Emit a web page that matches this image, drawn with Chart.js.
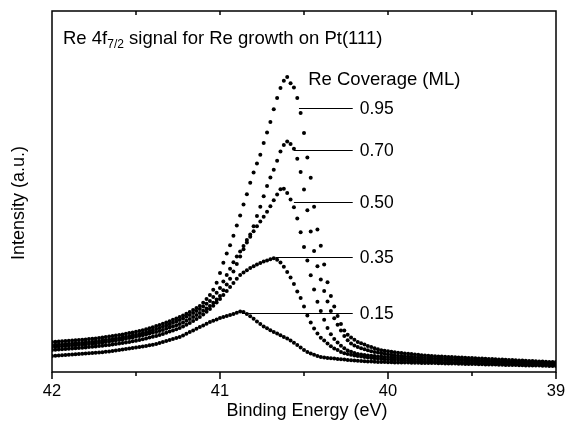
<!DOCTYPE html>
<html>
<head>
<meta charset="utf-8">
<title>Re 4f7/2 signal for Re growth on Pt(111)</title>
<script src="https://cdn.jsdelivr.net/npm/chart.js@4.4.1/dist/chart.umd.min.js"></script>
<style>
    html, body { margin: 0; padding: 0; background: #fff; }
    #wrap { width: 567px; height: 430px; position: relative; }
</style>
</head>
<body>
<div id="wrap"><canvas id="xpsChart"></canvas></div>
<script>
/* ========================================
   Re 4f7/2 XPS spectra, Re on Pt(111)
   ======================================== */

// binding energy grid: first point and spacing (eV)
const energyStart = 42;
const energyStep = 0.02;

const coverages = ['0.95', '0.70', '0.50', '0.35', '0.15'];

// intensity (a.u.), one value per energy point
const cov095 = [
    30, 30.2, 30.5, 30.7, 31, 31.2, 31.4, 31.7, 31.9, 32.2,
    32.6, 32.9, 33.2, 33.6, 33.9, 34.4, 34.9, 35.4, 35.9, 36.4,
    36.9, 37.5, 38.2, 38.9, 39.5, 40.2, 40.9, 41.8, 42.8, 43.8,
    44.8, 45.9, 46.9, 48.2, 49.5, 50.8, 52.2, 53.5, 54.9, 56.5,
    58.2, 59.9, 61.9, 63.9, 65.9, 69.2, 72.9, 76.9, 82.3, 89.3,
    99, 109.2, 118.4, 126.8, 136.3, 146.4, 156.6, 167.4, 177.8, 189.3,
    199.6, 208.5, 217.3, 228.9, 239.5, 250.1, 262.7, 274, 284, 291.2,
    295, 288.8, 284.4, 273.9, 259.1, 239, 214.5, 194.2, 165.2, 142.6,
    126.2, 107.5, 89.7, 76.1, 65.4, 56, 48, 41.4, 37.3, 34.4,
    32.3, 30.1, 28.8, 27.4, 26.1, 25, 23.8, 22.7, 21.8, 21.3,
    20.8, 20.3, 19.8, 19.3, 18.9, 18.5, 18.2, 17.9, 17.5, 17.2,
    16.8, 16.5, 16.2, 15.9, 15.8, 15.6, 15.4, 15.2, 15.1, 14.9,
    14.7, 14.6, 14.4, 14.2, 14.1, 13.9, 13.7, 13.6, 13.4, 13.2,
    13.1, 12.9, 12.7, 12.6, 12.4, 12.2, 12.1, 11.9, 11.8, 11.6,
    11.4, 11.3, 11.1, 10.9, 10.8, 10.6, 10.4, 10.3, 10.1, 10,
    10
];
const cov070 = [
    27, 27.2, 27.5, 27.7, 28, 28.2, 28.4, 28.7, 28.9, 29.2,
    29.6, 29.9, 30.2, 30.6, 30.9, 31.4, 31.9, 32.4, 32.9, 33.4,
    33.9, 34.5, 35.2, 35.9, 36.5, 37.2, 37.9, 38.8, 39.8, 40.8,
    41.8, 42.9, 43.9, 45.2, 46.5, 47.8, 49.2, 50.5, 51.9, 53.5,
    55.2, 56.9, 58.9, 60.9, 62.9, 65.6, 68.3, 70.9, 75, 79.3,
    84, 90.4, 97, 103.3, 109.8, 115.5, 120.4, 126.1, 132.1, 137.6,
    145.7, 156.1, 165.3, 175.7, 186.1, 194.6, 202.3, 211.2, 220.4, 227.1,
    230.5, 227.9, 223.3, 213.3, 199.9, 182.4, 161.7, 140.5, 120.9, 105.8,
    92.5, 80.9, 70.5, 61, 53.8, 47.3, 41.4, 36.1, 31.8, 28.5,
    26.6, 25.1, 23.7, 22.7, 21.7, 20.8, 20.1, 19.4, 18.8, 18.3,
    17.8, 17.3, 16.8, 16.3, 15.9, 15.7, 15.5, 15.2, 15, 14.8,
    14.6, 14.3, 14.1, 14, 13.8, 13.6, 13.4, 13.2, 13.1, 12.9,
    12.7, 12.6, 12.4, 12.2, 12.1, 11.9, 11.8, 11.7, 11.5, 11.4,
    11.3, 11.2, 11, 10.9, 10.8, 10.7, 10.5, 10.4, 10.3, 10.2,
    10.1, 10, 9.9, 9.8, 9.7, 9.5, 9.4, 9.3, 9.2, 9.1,
    9
];
const cov050 = [
    25, 25.2, 25.5, 25.7, 26, 26.2, 26.4, 26.7, 26.9, 27.2,
    27.6, 27.9, 28.2, 28.6, 28.9, 29.4, 29.9, 30.4, 30.9, 31.4,
    31.9, 32.5, 33.2, 33.9, 34.5, 35.2, 35.9, 36.7, 37.5, 38.4,
    39.2, 40.1, 40.9, 42, 43.2, 44.4, 45.6, 46.7, 47.9, 49.5,
    51.2, 52.9, 54.9, 56.9, 58.9, 61.2, 63.6, 65.9, 69.3, 72.6,
    76, 81.8, 87.4, 93.2, 100.5, 108, 115.4, 122.7, 129.4, 135.3,
    140.8, 145.8, 150.4, 155.2, 160.2, 165.7, 171.8, 177.5, 182.7, 183.2,
    179.1, 172.4, 164.7, 153.6, 139.8, 125.1, 111.4, 96.8, 82.5, 70.3,
    61.1, 52.2, 43.9, 37.8, 33.1, 29.5, 26.3, 23.8, 21.6, 20.3,
    18.9, 17.9, 17.5, 17, 16.6, 16.2, 15.9, 15.6, 15.4, 15.1,
    14.9, 14.6, 14.4, 14.1, 13.9, 13.7, 13.5, 13.2, 13, 12.8,
    12.6, 12.3, 12.1, 12, 11.9, 11.8, 11.7, 11.6, 11.5, 11.5,
    11.4, 11.3, 11.2, 11.1, 11, 10.9, 10.8, 10.7, 10.5, 10.4,
    10.3, 10.2, 10, 9.9, 9.8, 9.7, 9.5, 9.4, 9.3, 9.2,
    9.1, 9, 8.9, 8.8, 8.7, 8.5, 8.4, 8.3, 8.2, 8.1,
    8
];
const cov035 = [
    22, 22.2, 22.5, 22.7, 23, 23.2, 23.4, 23.7, 23.9, 24.2,
    24.6, 24.9, 25.2, 25.6, 25.9, 26.3, 26.7, 27.1, 27.6, 28,
    28.4, 28.9, 29.5, 30.1, 30.7, 31.3, 31.9, 32.7, 33.5, 34.4,
    35.2, 36.1, 36.9, 38, 39.2, 40.4, 41.6, 42.7, 43.9, 45.5,
    47.2, 48.9, 50.9, 52.9, 54.9, 57.6, 60.3, 62.9, 66.3, 69.6,
    73, 77.1, 81, 85.1, 89.1, 93.2, 97.1, 99.5, 101.8, 104.1,
    105.8, 107.5, 109.1, 110.4, 111.6, 112.7, 113.7, 112.3, 109.4, 105.3,
    100.1, 94.4, 87.9, 80.4, 74, 65.5, 56.4, 49.6, 43.5, 38.6,
    34.3, 31.5, 28.6, 25.8, 23.6, 21.9, 19.9, 18.7, 18, 17.3,
    16.6, 15.9, 15.5, 15, 14.6, 14.1, 13.7, 13.3, 12.9, 12.8,
    12.6, 12.4, 12.3, 12.1, 11.9, 11.7, 11.5, 11.2, 11, 10.8,
    10.6, 10.3, 10.1, 10, 9.9, 9.8, 9.7, 9.6, 9.5, 9.5,
    9.4, 9.3, 9.2, 9.1, 9, 9, 8.9, 8.8, 8.7, 8.6,
    8.5, 8.5, 8.4, 8.3, 8.2, 8.1, 8, 8, 7.9, 7.8,
    7.7, 7.7, 7.6, 7.5, 7.4, 7.4, 7.3, 7.2, 7.1, 7.1,
    7
];
const cov015 = [
    16, 16.2, 16.5, 16.7, 17, 17.2, 17.4, 17.7, 17.9, 18.2,
    18.4, 18.7, 18.9, 19.2, 19.4, 19.8, 20.2, 20.6, 21.1, 21.5,
    21.9, 22.4, 22.9, 23.4, 23.9, 24.4, 24.9, 25.5, 26.1, 26.7,
    27.3, 28, 28.9, 29.9, 30.9, 31.9, 32.9, 33.9, 34.9, 36.5,
    38.2, 39.9, 41.6, 43.3, 44.9, 46.6, 48.3, 50, 51.3, 52.6,
    54, 55, 56, 57, 58.1, 59.3, 60.4, 60.1, 57.9, 55.8,
    53.2, 50.6, 48.1, 45.6, 43.7, 41.8, 40.1, 38.5, 36.8, 35.1,
    33.4, 31.6, 29.3, 26.9, 24.6, 22.1, 19.9, 18.6, 17.3, 16,
    14.9, 14.5, 14.1, 13.7, 13.4, 13.1, 12.7, 12.4, 12.1, 11.7,
    11.4, 11.2, 11, 10.8, 10.6, 10.4, 10.2, 10.1, 10, 9.9,
    9.8, 9.7, 9.6, 9.5, 9.5, 9.4, 9.4, 9.3, 9.3, 9.2,
    9.1, 9.1, 9, 9, 8.9, 8.8, 8.7, 8.6, 8.5, 8.5,
    8.4, 8.3, 8.2, 8.1, 8, 8, 7.9, 7.8, 7.7, 7.6,
    7.5, 7.4, 7.4, 7.3, 7.2, 7.1, 7, 6.9, 6.9, 6.8,
    6.7, 6.6, 6.6, 6.5, 6.4, 6.4, 6.3, 6.2, 6.1, 6.1,
    6
];

// x axis ticks (eV)
const majorTicks = [42, 41, 40, 39];
const minorTicks = [41.5, 40.5, 39.5];

// leader lines to the coverage labels: level (a.u.), start and end energy (eV)
const leaderLevels = [264, 222, 170, 115, 59];
const leaderStartE = [40.53, 40.56, 40.56, 40.67, 40.87];
const leaderEndE = 40.21;

const FONT = '"Liberation Sans", Arial, Helvetica, sans-serif';

document.addEventListener('DOMContentLoaded', function() {
    drawSpectra();
});

function toPoints(values) {
    return values.map((v, i) => ({ x: energyStart - i * energyStep, y: v }));
}

const frameAndLabels = {
    id: 'frameAndLabels',
    afterDraw(chart) {
        const ctx = chart.ctx;
        const { left, right, top, bottom } = chart.chartArea;
        const x = chart.scales.x;
        const y = chart.scales.y;

        ctx.save();
        ctx.strokeStyle = '#000';
        ctx.lineWidth = 1.5;
        ctx.strokeRect(left, top, right - left, bottom - top);

        // bottom ticks point out, top ticks point in
        ctx.beginPath();
        majorTicks.forEach(v => {
            const px = x.getPixelForValue(v);
            ctx.moveTo(px, bottom); ctx.lineTo(px, bottom + 7);
        });
        minorTicks.forEach(v => {
            const px = x.getPixelForValue(v);
            ctx.moveTo(px, bottom); ctx.lineTo(px, bottom + 4);
        });
        majorTicks.concat(minorTicks).forEach(v => {
            if (v === 42 || v === 39) return;
            const px = x.getPixelForValue(v);
            ctx.moveTo(px, top); ctx.lineTo(px, top + 4);
        });
        ctx.stroke();

        ctx.fillStyle = '#000';
        ctx.font = '16.5px ' + FONT;
        ctx.textAlign = 'center';
        ctx.textBaseline = 'middle';
        majorTicks.forEach(v => {
            ctx.fillText(String(v), x.getPixelForValue(v), bottom + 19);
        });

        // leader lines + coverage labels
        ctx.lineWidth = 1;
        ctx.textAlign = 'left';
        ctx.font = '17.5px ' + FONT;
        const xEnd = x.getPixelForValue(leaderEndE);
        coverages.forEach((label, i) => {
            const py = Math.round(y.getPixelForValue(leaderLevels[i])) + 0.5;
            ctx.beginPath();
            ctx.moveTo(x.getPixelForValue(leaderStartE[i]), py);
            ctx.lineTo(xEnd, py);
            ctx.stroke();
            ctx.fillText(label, xEnd + 7, py + 1);
        });

        ctx.textBaseline = 'alphabetic';
        ctx.font = '18.5px ' + FONT;
        ctx.fillText('Re Coverage (ML)', x.getPixelForValue(40.475), y.getPixelForValue(287));

        // title with subscript
        let tx = left + 11;
        const ty = top + 33;
        ctx.fillText('Re 4f', tx, ty);
        tx += ctx.measureText('Re 4f').width;
        ctx.font = '12px ' + FONT;
        ctx.fillText('7/2', tx, ty + 4);
        tx += ctx.measureText('7/2').width;
        ctx.font = '18.5px ' + FONT;
        ctx.fillText(' signal for Re growth on Pt(111)', tx, ty);

        // axis titles
        ctx.textAlign = 'center';
        ctx.textBaseline = 'middle';
        ctx.font = '18px ' + FONT;
        ctx.fillText('Binding Energy (eV)', (left + right) / 2 + 3, 411);
        ctx.translate(19, 203);
        ctx.rotate(-Math.PI / 2);
        ctx.fillText('Intensity (a.u.)', 0, 0);
        ctx.restore();
    }
};

function drawSpectra() {
    const ctx = document.getElementById('xpsChart');
    if (!ctx) return;

    const series = [cov095, cov070, cov050, cov035, cov015];

    new Chart(ctx, {
        type: 'scatter',
        data: {
            datasets: series.map((values, i) => ({
                label: coverages[i] + ' ML',
                data: toPoints(values),
                showLine: false,
                pointRadius: 2,
                pointBackgroundColor: '#000',
                pointBorderWidth: 0
            }))
        },
        options: {
            responsive: true,
            maintainAspectRatio: false,
            animation: false,
            layout: { padding: { top: 11, right: 11, left: 0, bottom: 0 } },
            plugins: {
                legend: { display: false },
                tooltip: { enabled: false }
            },
            scales: {
                x: {
                    type: 'linear',
                    reverse: true,
                    min: 39,
                    max: 42,
                    grid: { display: false },
                    border: { display: false },
                    ticks: { display: false },
                    afterFit(scale) { scale.height = 58; }
                },
                y: {
                    min: 0,
                    max: 361,
                    grid: { display: false },
                    border: { display: false },
                    ticks: { display: false },
                    afterFit(scale) { scale.width = 52; }
                }
            }
        },
        plugins: [frameAndLabels]
    });
}
</script>
</body>
</html>
